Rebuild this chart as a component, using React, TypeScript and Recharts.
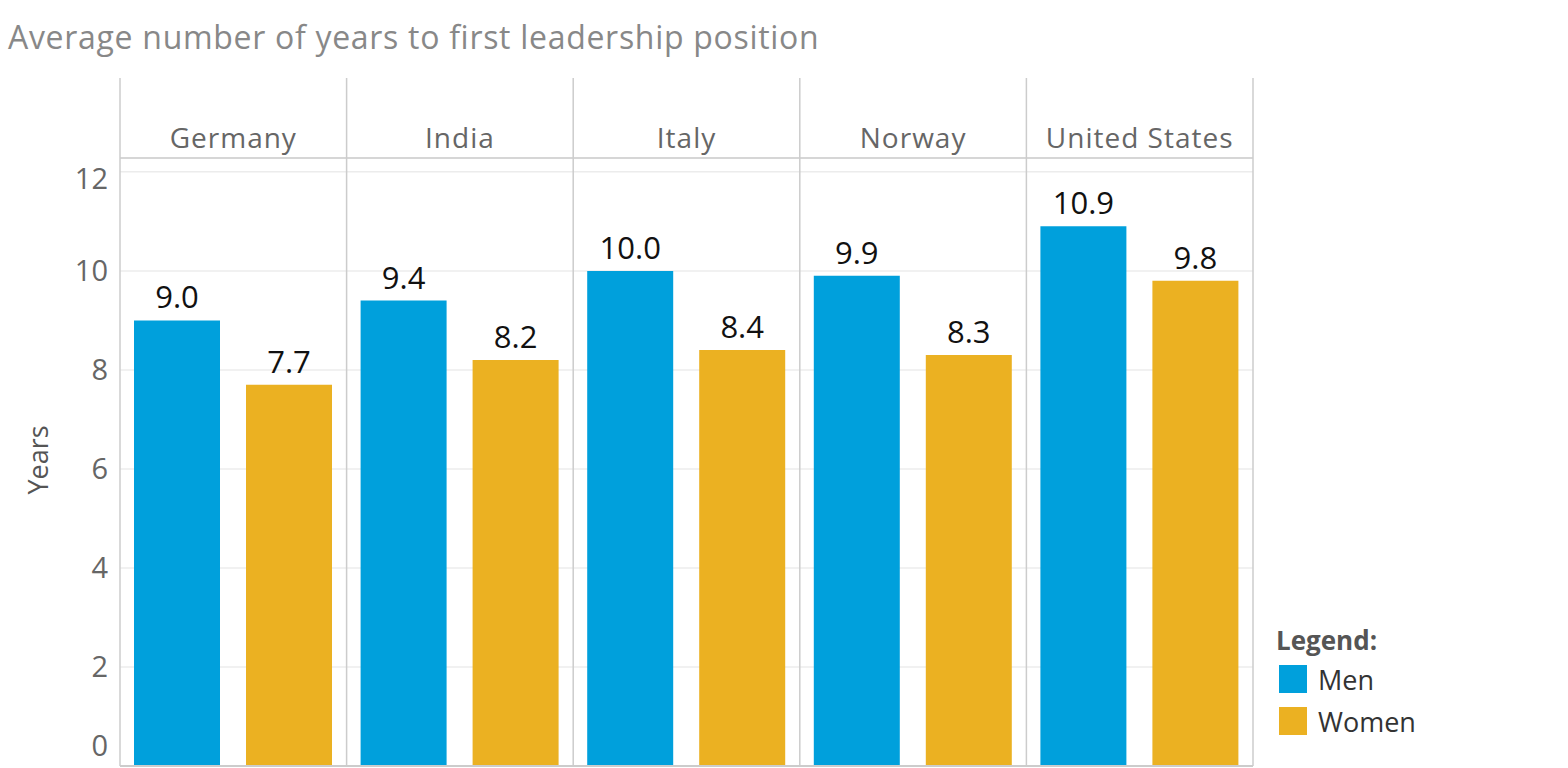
import { BarChart, Bar, XAxis, YAxis, CartesianGrid, ReferenceLine, LabelList, usePlotArea } from "recharts";

const countries = ["Germany", "India", "Italy", "Norway", "United States"];
const men = [9.0, 9.4, 10.0, 9.9, 10.9];
const women = [7.7, 8.2, 8.4, 8.3, 9.8];
const yTicks = [0, 2, 4, 6, 8, 10, 12];

const data = countries.map((c, i) => ({ country: c, men: men[i], women: women[i] }));

const FONT = "'Open Sans', 'Noto Sans', sans-serif";
const BLUE = "#00a0dc";
const GOLD = "#ebb122";
const LINE = "#cccccc";
const HEADER_H = 80;

function HeaderTick({ x, y, payload }: any) {
  return (
    <text x={x} y={y} textAnchor="middle" fill="#666" fontSize={28} fontFamily={FONT} letterSpacing={1}>
      {payload.value}
    </text>
  );
}

function YTick({ x, y, payload }: any) {
  // Tableau nudges the extreme labels inside the pane
  const shift = payload.value === 0 ? -20 : payload.value === 12 ? 7 : 0;
  return (
    <text x={x} y={y + shift} dy={10} textAnchor="end" fill="#666" fontSize={29} fontFamily={FONT}>
      {payload.value}
    </text>
  );
}

// pane separators, running through the header row as well
function PaneLines() {
  const plot = usePlotArea();
  if (!plot) return null;
  const step = plot.width / countries.length;
  const top = plot.y - HEADER_H;
  const bottom = plot.y + plot.height;
  return (
    <g>
      {countries.map((_, i) => (
        <line key={i} x1={plot.x + i * step} x2={plot.x + i * step} y1={top} y2={bottom} stroke={LINE} strokeWidth={1.5} />
      ))}
      <line x1={plot.x + plot.width} x2={plot.x + plot.width} y1={top} y2={bottom} stroke={LINE} strokeWidth={1.5} />
    </g>
  );
}

const fmt = (v: any) => Number(v).toFixed(1);

export default function App() {
  return (
    <div style={{ position: "absolute", left: 0, top: 0, width: 1568, height: 768, background: "#fff", fontFamily: FONT }}>
      <div style={{ position: "absolute", left: 8, top: 17, fontSize: 32, letterSpacing: 0.7, color: "#888", whiteSpace: "nowrap", lineHeight: "40px" }}>
        Average number of years to first leadership position
      </div>
      <div
        style={{
          position: "absolute", left: 37, top: 460, transform: "translate(-50%, -50%) rotate(-90deg)",
          fontSize: 27, color: "#555", whiteSpace: "nowrap",
        }}
      >
        Years
      </div>
      <BarChart
        width={1568}
        height={768}
        data={data}
        margin={{ top: 78, right: 315, left: 20, bottom: 2 }}
        barCategoryGap={14}
        barGap={26}
        barSize={86}
      >
        <CartesianGrid horizontal vertical={false} stroke="#ececec" strokeWidth={1.5} />
        <XAxis
          dataKey="country"
          orientation="top"
          height={HEADER_H}
          tickLine={false}
          tickSize={0}
          tickMargin={10}
          axisLine={{ stroke: LINE, strokeWidth: 1.5 }}
          tick={<HeaderTick />}
          interval={0}
        />
        <YAxis
          type="number"
          domain={[0, 12.28]}
          ticks={yTicks}
          interval={0}
          width={100}
          axisLine={false}
          tickLine={false}
          tickSize={0}
          tickMargin={12}
          tick={<YTick />}
        />
        <Bar dataKey="men" fill={BLUE} isAnimationActive={false}>
          <LabelList dataKey="men" position="top" offset={12} fill="#111" fontSize={31} fontFamily={FONT} formatter={fmt} />
        </Bar>
        <Bar dataKey="women" fill={GOLD} isAnimationActive={false}>
          <LabelList dataKey="women" position="top" offset={12} fill="#111" fontSize={31} fontFamily={FONT} formatter={fmt} />
        </Bar>
        <ReferenceLine y={0} stroke={LINE} strokeWidth={2} />
        <PaneLines />
      </BarChart>
      <div style={{ position: "absolute", left: 1276, top: 622, color: "#555", fontSize: 26, fontWeight: 700, lineHeight: "36px" }}>
        Legend:
      </div>
      {[
        { name: "Men", color: BLUE, top: 665 },
        { name: "Women", color: GOLD, top: 707 },
      ].map((d) => (
        <div key={d.name} style={{ position: "absolute", left: 1279, top: d.top, display: "flex", alignItems: "center", height: 28 }}>
          <div style={{ width: 28, height: 28, background: d.color }} />
          <span style={{ marginLeft: 11, fontSize: 27, color: "#333" }}>{d.name}</span>
        </div>
      ))}
    </div>
  );
}
